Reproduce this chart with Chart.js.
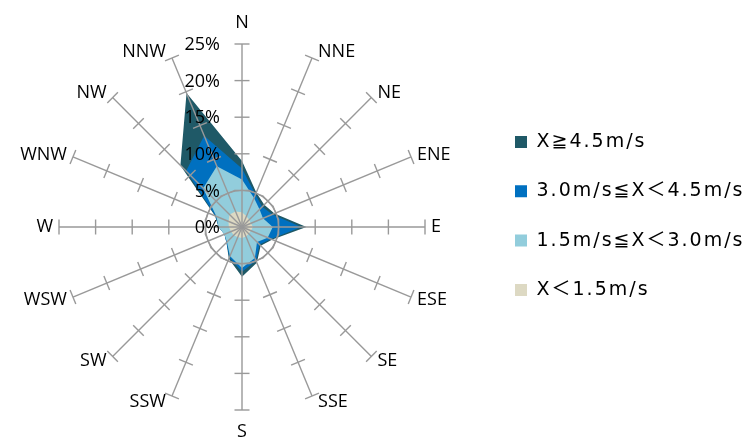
<!DOCTYPE html>
<html><head><meta charset="utf-8">
<script src="https://cdn.jsdelivr.net/npm/chart.js@4/dist/chart.umd.min.js"></script>
<style>html,body{margin:0;padding:0;background:#fff;overflow:hidden}canvas{display:block}</style>
</head><body>
<canvas id="c" width="754" height="439"></canvas>
<script>
// ---- data ----
const directions = ['N','NNE','NE','ENE','E','ESE','SE','SSE','S','SSW','SW','WSW','W','WNW','NW','NNW'];
const radialTicks = [0, 5, 10, 15, 20, 25];   // percent
const seriesNames = ['X≧4.5m/s', '3.0m/s≦X＜4.5m/s', '1.5m/s≦X＜3.0m/s', 'X＜1.5m/s'];
const seriesColors = ['#1f5967', '#0070c0', '#92cddc', '#ddd9c3'];
// frequency (%) of each wind-speed band per direction
const below15    = [2.0,1.6,1.4,1.3,1.5,1.3,1.3,1.4,1.5,1.5,1.6,1.6,1.8,2.0,2.4,2.3];
const from15to30 = [4.5,2.7,2.0,1.8,2.7,2.5,1.6,3.2,4.1,2.8,1.3,1.0,1.4,1.8,5.1,6.7];
const from30to45 = [1.5,0.5,0.5,1.4,3.9,0.5,0.5,0.4,0.5,0.2,0.1,0.0,0.0,0.1,3.3,4.5];
const above45    = [1.0,0.3,0.4,0.3,0.7,0.2,0.2,0.3,0.7,0.2,0.0,0.0,0.0,0.1,1.1,6.3];

// polygons are cumulative (each band is drawn on top of the faster ones)
function cumulate(...arrs) { return arrs[0].map((_, i) => +arrs.reduce((s, a) => s + a[i], 0).toFixed(2)); }
const cumulative = [
  cumulate(below15, from15to30, from30to45, above45),
  cumulate(below15, from15to30, from30to45),
  cumulate(below15, from15to30),
  below15.slice()
];

const LINE = '#999999';
const LINE_W = 1.4;
const FONT = "'Open Sans', 'Noto Sans CJK JP', sans-serif";
const LEGEND_FONT = "'DejaVu Sans', 'Noto Sans CJK JP', sans-serif";
const LEGEND_SPACING = '2px';

const overlay = {
  id: 'overlay',
  beforeLayout(chart) { chart.ctx.letterSpacing = LEGEND_SPACING; },
  afterLayout(chart) { chart.ctx.letterSpacing = '0px'; },
  beforeDraw(chart) { chart.ctx.letterSpacing = LEGEND_SPACING; },
  afterDraw(chart) {
    const ctx = chart.ctx, sc = chart.scales.r;
    ctx.letterSpacing = '0px';
    ctx.save();
    ctx.letterSpacing = '0px';
    const n = chart.data.labels.length;
    // tick marks across every spoke
    ctx.strokeStyle = LINE; ctx.lineWidth = LINE_W;
    for (let i = 0; i < n; i++) {
      const a = sc.getIndexAngle(i);
      const px = Math.cos(a), py = Math.sin(a);
      sc.ticks.forEach(t => {
        if (t.value <= sc.min) return;
        const p = sc.getPointPositionForValue(i, t.value);
        ctx.beginPath();
        ctx.moveTo(p.x - 7.5 * px, p.y - 7.5 * py);
        ctx.lineTo(p.x + 7.5 * px, p.y + 7.5 * py);
        ctx.stroke();
      });
    }
    // tick labels, left of the north spoke
    ctx.fillStyle = '#000';
    ctx.font = '18px ' + FONT;
    ctx.textAlign = 'right'; ctx.textBaseline = 'middle';
    sc.ticks.forEach(t => {
      const p = sc.getPointPositionForValue(0, t.value);
      ctx.fillText(t.label, sc.xCenter - 22, p.y + 1);
    });
    // direction labels
    chart.data.labels.forEach((lab, i) => {
      const a = sc.getIndexAngle(i), s = Math.sin(a), c = Math.cos(a);
      const e = sc.getPointPosition(i, sc.drawingArea);
      let x = e.x, y;
      if (Math.abs(s) < 0.01) { ctx.textAlign = 'center'; y = e.y - Math.sign(c) * 21.5; }
      else { ctx.textAlign = s > 0 ? 'left' : 'right'; x = e.x + (s > 0 ? 6 : -6); y = e.y - 6.5 * c; }
      ctx.fillText(lab, x, y);
    });
    ctx.restore();
  }
};

new Chart(document.getElementById('c'), {
  type: 'radar',
  data: {
    labels: directions,
    datasets: seriesNames.map((name, k) => ({
      label: name,
      data: cumulative[k],
      backgroundColor: seriesColors[k],
      borderColor: 'rgba(0,0,0,0)',
      borderWidth: 0,
      fill: 'origin',
      pointRadius: 0,
      pointHoverRadius: 0,
      pointHitRadius: 0,
      order: seriesNames.length - k
    }))
  },
  options: {
    responsive: false,
    animation: false,
    devicePixelRatio: 1,
    layout: { padding: { left: 0, right: 0, top: 44, bottom: 29 } },
    scales: {
      r: {
        min: radialTicks[0],
        max: radialTicks[radialTicks.length - 1],
        ticks: { stepSize: radialTicks[1] - radialTicks[0], display: false, z: 1, callback: v => v + '%' },
        grid: { z: 1, circular: true, lineWidth: LINE_W, color: c => (c.tick && c.tick.value === radialTicks[1]) ? LINE : 'rgba(0,0,0,0)' },
        angleLines: { color: LINE, lineWidth: LINE_W },
        pointLabels: { display: false }
      }
    },
    plugins: {
      legend: {
        position: 'right',
        align: 'start',
        maxWidth: 269.3,
        title: { display: true, text: '', padding: { top: 0, bottom: 46.2 }, font: { size: 10 } },
        labels: {
          boxWidth: 12, boxHeight: 12, padding: 30.3, color: '#000',
          font: { family: LEGEND_FONT, size: 19 },
          sort: (a, b) => a.datasetIndex - b.datasetIndex
        }
      },
      tooltip: { enabled: false }
    }
  },
  plugins: [overlay]
});
</script>
</body></html>
